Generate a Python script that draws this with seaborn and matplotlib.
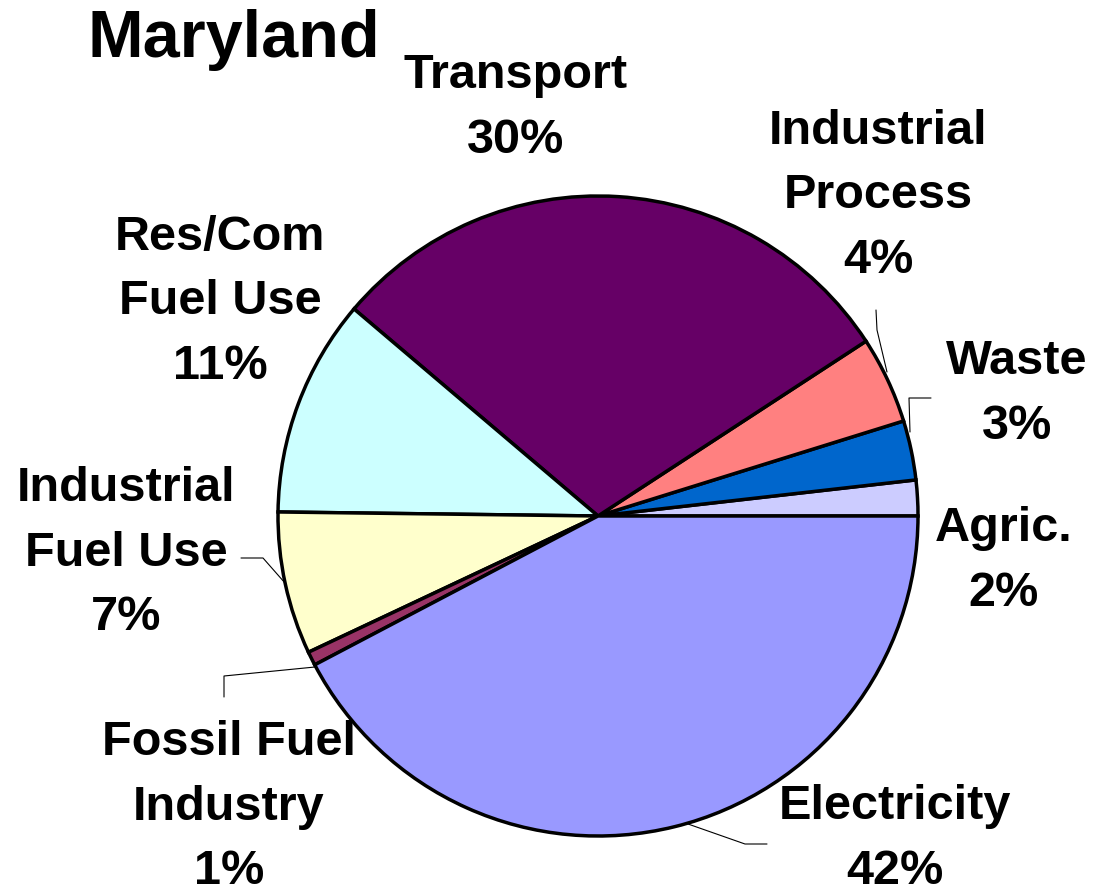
import matplotlib
matplotlib.use('Agg')
import matplotlib.pyplot as plt
import seaborn as sns

sns.set_theme(style="white")
plt.rcParams['font.family'] = ['Liberation Sans', 'DejaVu Sans']

# data (counter-clockwise from 3 o'clock)
sectors = ['Agric.', 'Waste', 'Industrial\nProcess', 'Transport', 'Res/Com\nFuel Use',
           'Industrial\nFuel Use', 'Fossil Fuel\nIndustry', 'Electricity']
shares = [1.8, 3.0, 4.4, 29.6, 11.0, 7.2, 0.7, 42.3]
colors = ['#CCCCFF', '#0066CC', '#FF8080', '#660066', '#CCFFFF', '#FFFFCC', '#993366', '#9999FF']

H = 894
fig = plt.figure(figsize=(10.95, 8.94), dpi=100)
ax = fig.add_axes([0, 0, 1, 1])

ax.pie(shares, colors=colors, startangle=0, counterclock=True,
       center=(598, H - 516), radius=320,
       wedgeprops=dict(edgecolor='black', linewidth=2.5))
ax.set_xlim(0, 1095)
ax.set_ylim(0, H)
ax.set_aspect('equal')
ax.axis('off')

# label block centres in pixel coords (x, y from top)
label_pos = [(1004, 561), (1017, 394), (878, 196), (516, 108), (220, 302),
             (126, 553), (229, 807), (895, 839)]
for name, v, (x, y) in zip(sectors, shares, label_pos):
    ax.text(x, H - y, f"{name}\n{round(v)}%", ha='center', va='center',
            fontsize=35, fontweight='bold', linespacing=1.55, color='black')

# leader lines
leaders = [
    [(876, 310), (877, 330), (887, 372)],
    [(931, 398), (909, 398), (910, 432)],
    [(241, 558), (263, 558), (285, 583)],
    [(315, 667), (224, 676), (224, 697)],
    [(688, 824), (745, 844), (767, 844)],
]
for pts in leaders:
    ax.plot([p[0] for p in pts], [H - p[1] for p in pts], color='black', lw=0.8)

ax.text(88, H - 40, 'Maryland', ha='left', va='center', fontsize=48,
        fontweight='bold', color='black')

fig.savefig('out.png', dpi=100)
